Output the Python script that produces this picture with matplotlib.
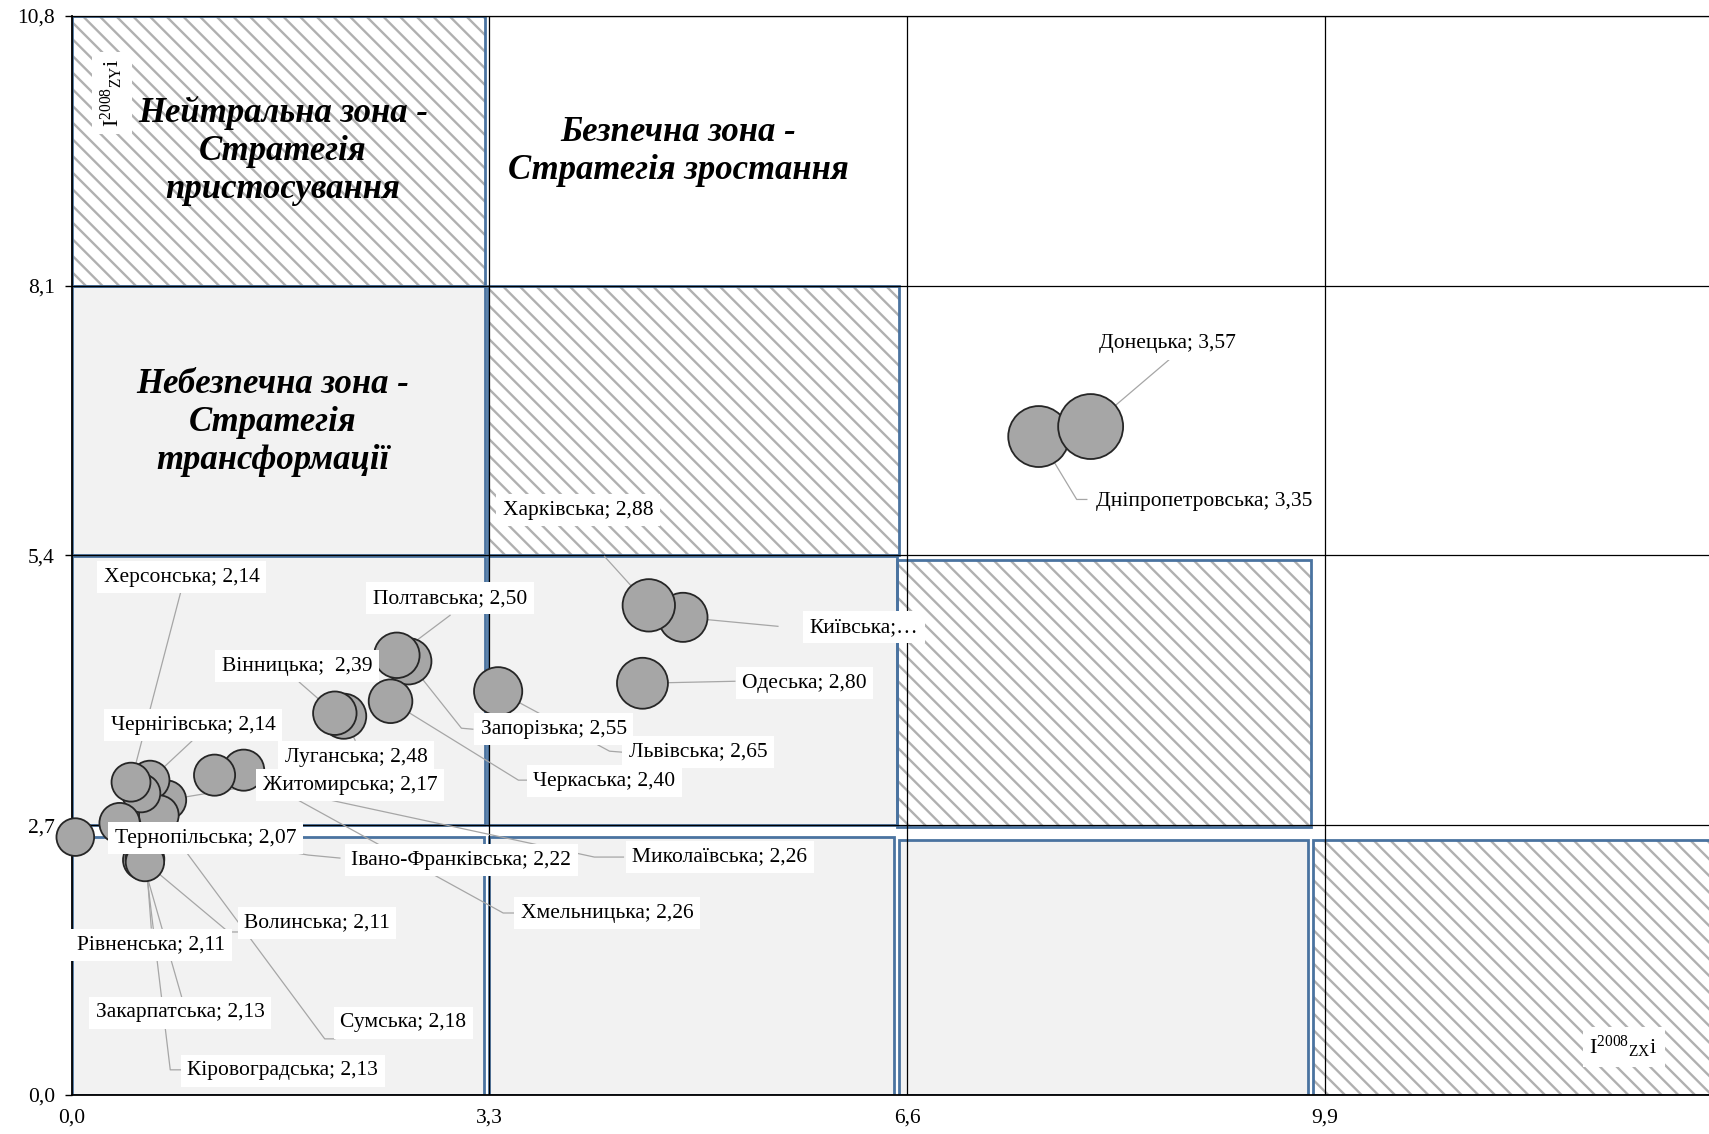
import matplotlib
matplotlib.use("Agg")
import matplotlib.pyplot as plt
from matplotlib.patches import Rectangle

plt.rcParams["font.family"] = ["Liberation Serif", "DejaVu Serif"]
plt.rcParams["mathtext.fontset"] = "custom"
plt.rcParams["mathtext.rm"] = "Liberation Serif"
plt.rcParams["mathtext.it"] = "Liberation Serif:italic"
plt.rcParams["hatch.linewidth"] = 1.7

# oblasts, in drawing order (later ones sit on top)
regions = ["Дніпропетровська", "Донецька", "Київська", "Харківська", "Одеська",
           "Львівська", "Запорізька", "Полтавська", "Черкаська", "Луганська",
           "Вінницька", "Хмельницька", "Миколаївська", "Житомирська", "Чернігівська",
           "Сумська", "Рівненська", "Херсонська", "Івано-Франківська",
           "Закарпатська", "Кіровоградська", "Волинська", "Тернопільська"]
x_vals = [7.64, 8.05, 4.83, 4.56, 4.51,
          3.37, 2.66, 2.57, 2.52, 2.15,
          2.08, 1.36, 1.13, 0.75, 0.62,
          0.69, 0.55, 0.47, 0.38,
          0.56, 0.58, 0.58, 0.03]
y_vals = [6.59, 6.69, 4.78, 4.90, 4.12,
          4.04, 4.34, 4.40, 3.94, 3.79,
          3.82, 3.25, 3.20, 2.95, 3.15,
          2.80, 3.02, 3.13, 2.72,
          2.35, 2.36, 2.33, 2.58]
values = [3.35, 3.57, 2.70, 2.88, 2.80,
          2.65, 2.55, 2.50, 2.40, 2.48,
          2.39, 2.26, 2.26, 2.17, 2.14,
          2.18, 2.11, 2.14, 2.22,
          2.13, 2.13, 2.11, 2.07]

x_ticks = [0, 3.3, 6.6, 9.9]
y_ticks = [0, 2.7, 5.4, 8.1, 10.8]

# zones: x0, y0, x1, y1, fill kind
zones = [
    (0.0, 8.1, 3.265, 10.8, "hatch"),
    (0.0, 5.4, 3.265, 8.1, "grey"),
    (3.29, 5.4, 6.54, 8.1, "hatch"),
    (0.0, 2.7, 3.265, 5.39, "grey"),
    (3.29, 2.7, 6.52, 5.39, "grey"),
    (6.52, 2.68, 9.79, 5.35, "hatch"),
    (0.0, 0.0, 3.26, 2.58, "grey"),
    (3.3, 0.0, 6.5, 2.58, "grey"),
    (6.54, 0.0, 9.77, 2.55, "grey"),
    (9.81, 0.0, 13.4, 2.55, "hatch"),
]

# label centres and leader bend points (data units)
label_pos = {
    "Херсонська": (0.87, 5.18), "Полтавська": (2.99, 4.97), "Вінницька": (1.78, 4.29),
    "Чернігівська": (0.96, 3.70), "Луганська": (2.25, 3.38), "Житомирська": (2.20, 3.10),
    "Тернопільська": (1.06, 2.57), "Івано-Франківська": (3.08, 2.35),
    "Миколаївська": (5.12, 2.38), "Хмельницька": (4.23, 1.82), "Волинська": (1.94, 1.72),
    "Рівненська": (0.63, 1.50), "Закарпатська": (0.86, 0.82), "Сумська": (2.62, 0.72),
    "Кіровоградська": (1.67, 0.24), "Харківська": (4.00, 5.85), "Київська": (6.26, 4.68),
    "Одеська": (5.79, 4.12), "Запорізька": (3.81, 3.66), "Львівська": (4.95, 3.43),
    "Черкаська": (4.21, 3.14), "Донецька": (8.66, 7.52), "Дніпропетровська": (8.95, 5.94),
}
leaders = {
    "Херсонська": [(0.86, 5.02)], "Полтавська": [(2.99, 4.80)], "Вінницька": [(1.80, 4.13)],
    "Чернігівська": [(0.95, 3.54)], "Луганська": [(2.24, 3.55)], "Житомирська": [(1.46, 3.10)],
    "Івано-Франківська": [(1.87, 2.40), (2.12, 2.37)],
    "Миколаївська": [(4.13, 2.38), (4.36, 2.38)], "Хмельницька": [(3.41, 1.82), (3.52, 1.82)],
    "Волинська": [(1.24, 1.63), (1.31, 1.63)], "Рівненська": [(0.63, 1.67)],
    "Закарпатська": [(0.87, 0.98)], "Сумська": [(2.00, 0.56), (2.08, 0.56)],
    "Кіровоградська": [(0.78, 0.25), (0.86, 0.25)], "Харківська": [(4.21, 5.39)],
    "Київська": [(5.58, 4.69)], "Одеська": [(5.24, 4.14)],
    "Запорізька": [(3.08, 3.67), (3.17, 3.66)], "Львівська": [(4.25, 3.44), (4.35, 3.43)],
    "Черкаська": [(3.53, 3.15), (3.60, 3.15)], "Донецька": [(8.68, 7.37)],
    "Дніпропетровська": [(7.94, 5.96), (8.02, 5.96)],
}

fig = plt.figure(figsize=(17.09, 11.34), dpi=100)
ax = fig.add_axes([71.5 / 1709, (1134 - 1094.8) / 1134, 13.2 * 126.6 / 1709, (1094.8 - 16) / 1134])
ax.set_xlim(0, 13.2)
ax.set_ylim(0, 10.8)

for x0, y0, x1, y1, kind in zones:
    if kind == "hatch":
        ax.add_patch(Rectangle((x0, y0), x1 - x0, y1 - y0, facecolor="white",
                               edgecolor="#B0B0B0", hatch="\\\\", lw=0, zorder=1))
    else:
        ax.add_patch(Rectangle((x0, y0), x1 - x0, y1 - y0, facecolor="#F2F2F2", lw=0, zorder=1))
    ax.add_patch(Rectangle((x0, y0), x1 - x0, y1 - y0, fill=False,
                           edgecolor="#4A73A0", lw=2, zorder=1.5))

for v in x_ticks[1:] + [13.2]:
    ax.axvline(v, color="black", lw=0.9, zorder=2)
for v in y_ticks[1:]:
    ax.axhline(v, color="black", lw=0.9, zorder=2)

# leader lines under the bubbles
for name, x, y in zip(regions, x_vals, y_vals):
    pts = [(x, y)] + leaders.get(name, [])
    if len(pts) > 1:
        ax.plot([p[0] for p in pts], [p[1] for p in pts], color="#A6A6A6", lw=0.9, zorder=3)

ax.scatter(x_vals, y_vals, s=[(13.1 * v) ** 2 for v in values], c="#A6A6A6",
           edgecolors="#262626", linewidths=1.3, zorder=4, clip_on=False)

for name, v in zip(regions, values):
    txt = f"{name}; {v:.2f}".replace(".", ",")
    if name == "Київська":
        txt = "Київська;…"
    if name == "Вінницька":
        txt = txt.replace("; ", ";  ")
    lx, ly = label_pos[name]
    ax.text(lx, ly, txt, ha="center", va="center", fontsize=15.5, zorder=5,
            bbox=dict(boxstyle="square,pad=0.3", fc="white", ec="none"))

zone_kw = dict(ha="center", va="center", fontsize=25, fontweight="bold",
               fontstyle="italic", linespacing=1.2, zorder=5)
ax.text(1.67, 9.45, "Нейтральна зона -\nСтратегія\nпристосування", **zone_kw)
ax.text(4.79, 9.44, "Безпечна зона -\nСтратегія зростання", **zone_kw)
ax.text(1.59, 6.73, "Небезпечна зона -\nСтратегія\nтрансформації", **zone_kw)

box = dict(boxstyle="square,pad=0.3", fc="white", ec="none")
ax.text(0.32, 10.03, r"I$^{2008}{}_{\mathrm{ZY}}$i", rotation=90, ha="center", va="center",
        fontsize=16, zorder=5, bbox=box)
ax.text(12.26, 0.48, r"I$^{2008}{}_{\mathrm{ZX}}$i", ha="center", va="center",
        fontsize=16, zorder=5, bbox=box)

ax.set_xticks(x_ticks)
ax.set_xticklabels([f"{v:.1f}".replace(".", ",") for v in x_ticks])
ax.set_yticks(y_ticks)
ax.set_yticklabels([f"{v:.1f}".replace(".", ",") for v in y_ticks])
ax.tick_params(axis="x", length=0, pad=10, labelsize=15.5)
ax.tick_params(axis="y", length=5, width=1, pad=7, labelsize=15.5)
for side in ["left", "bottom"]:
    ax.spines[side].set_linewidth(1.3)
ax.spines["top"].set_linewidth(0.9)
ax.spines["right"].set_visible(False)
for sp in ax.spines.values():
    sp.set_zorder(2.2)

fig.savefig("out.png", dpi=100)
plt.close(fig)
